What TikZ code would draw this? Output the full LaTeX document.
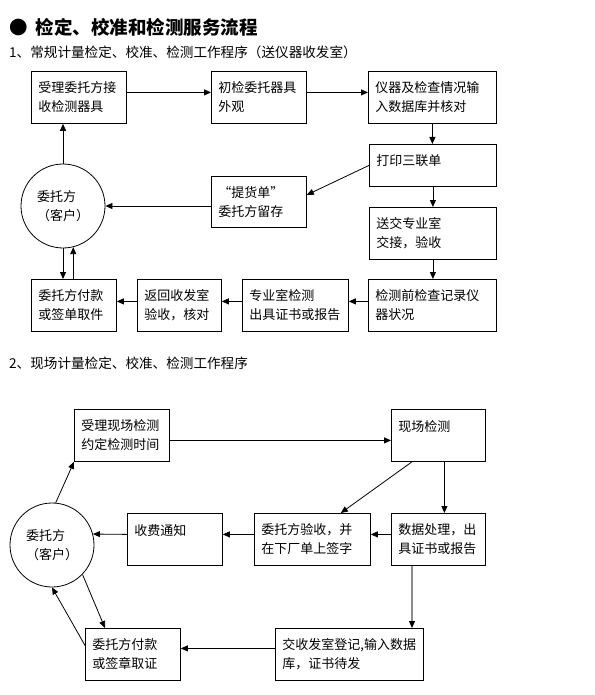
\documentclass[tikz,border=0pt]{standalone}
\usepackage{fontspec}
\setmainfont{Noto Sans CJK SC}
\usetikzlibrary{arrows.meta,calc}

\begin{document}
\begin{tikzpicture}
    [x=1pt,y=-1pt,
     flow/.style={-{Triangle[length=7pt,width=6pt]},line width=0.8pt},
     box/.style={draw,line width=0.8pt,anchor=north west,align=left,
       inner xsep=7pt,inner ysep=0pt,minimum height=52pt,text width=#1,
       font=\fontsize{13}{19}\selectfont},
     client/.style={draw,circle,line width=0.8pt,minimum size=84pt,inner sep=0pt,
       align=left,font=\fontsize{13}{19}\selectfont},
     heading/.style={anchor=west,inner sep=0pt,font=\fontsize{13.6}{16}\selectfont}]
    \useasboundingbox (0,0) rectangle (594,695);
    \node [anchor=west,inner sep=0pt,font=\fontsize{18.5}{22}\selectfont\bfseries]
      (title) at (9,27) {●\hspace{8pt}检定、校准和检测服务流程};
    \node [heading] (part1) at (9,52) {1、常规计量检定、校准、检测工作程序（送仪器收发室）};
    \node [heading] (part2) at (9,363) {2、现场计量检定、校准、检测工作程序};
    % part 1
    \node [box=81pt] (a) at (31,71) {受理委托方接\\收检测器具};
    \node [box=81pt] (b) at (211,71) {初检委托器具\\外观};
    \node [box=114pt] (c) at (368,71) {仪器及检查情况输\\入数据库并核对};
    \node [box=113pt,minimum height=42pt] (d) at (369,144) {打印三联单\\[-8pt]\mbox{}};
    \node [box=81pt,minimum height=51pt] (e) at (211,176) {“提货单”\\委托方留存};
    \node [box=113pt] (f) at (369,207) {送交专业室\\交接，验收};
    \node [box=114pt] (g) at (368,279) {检测前检查记录仪\\器状况};
    \node [box=92pt] (h) at (242,279) {专业室检测\\出具证书或报告};
    \node [box=70pt] (i) at (137,279) {返回收发室\\验收，核对};
    \node [box=71pt] (j) at (31,279) {委托方付款\\或签单取件};
    \node [client] (c1) at (63,206) {委托方\\（客户）};
    \draw [flow] ($(a.east)+(0,-5)$) -- ($(b.west)+(0,-5)$);
    \draw [flow] ($(b.east)+(0,-5)$) -- ($(c.west)+(0,-5)$);
    \draw [flow] (c.south) -- (c.south |- d.north);
    \draw [flow] (d.west) -- ($(e.east)+(0,-7)$);
    \draw [flow] (d.south) -- (d.south |- f.north);
    \draw [flow] (f.south) -- (f.south |- g.north);
    \draw [flow] (e.west |- c1.east) -- (c1.east);
    \draw [flow] (c1.north) -- (c1.north |- a.south);
    \draw [flow] ($(g.west)+(0,-4)$) -- ($(h.east)+(0,-4)$);
    \draw [flow] ($(h.west)+(0,-4)$) -- ($(i.east)+(0,-4)$);
    \draw [flow] ($(i.west)+(0,-4)$) -- ($(j.east)+(0,-4)$);
    \draw [flow] (c1.south) -- (c1.south |- j.north);
    \draw [flow] (c1.-76 |- j.north) -- (c1.-76);
    % part 2
    \node [box=81pt] (k) at (74,409) {受理现场检测\\约定检测时间};
    \node [box=80pt] (l) at (391,409) {现场检测\\\mbox{}};
    \node [box=81pt] (o) at (127,513) {收费通知\\\mbox{}};
    \node [box=102pt] (m) at (254,513) {委托方验收，并\\在下厂单上签字};
    \node [box=80pt] (n) at (391,513) {数据处理，出\\具证书或报告};
    \node [box=134pt] (p) at (275,628) {交收发室登记,输入数据\\库，证书待发};
    \node [box=81pt] (q) at (85,628) {委托方付款\\或签章取证};
    \node [client] (c2) at (52,545) {委托方\\（客户）};
    \coordinate (nout) at ($(n.south west)+(21,0)$);
    \coordinate (pin) at (nout |- p.north);
    \draw [flow] ($(k.east)+(0,5)$) -- ($(l.west)+(0,5)$);
    \draw [flow] (c2.85) -- (k.south west);
    \draw [flow] ($(l.south west)+(21,0)$) -- ($(m.north east)+(-30,0)$);
    \draw [flow] ($(l.south)+(6,0)$) -- ($(n.north)+(6,0)$);
    \draw [flow] ($(n.west)+(0,-5)$) -- ($(m.east)+(0,-5)$);
    \draw [flow] ($(m.west)+(0,-5)$) -- ($(o.east)+(0,-5)$);
    \draw [flow] ($(o.west)+(0,-5)$) -- (c2.15);
    % grey line, black head
    \draw [gray!90,line width=1.3pt] (nout) -- ($(pin)+(0,-6)$);
    \draw [flow] ($(pin)+(0,-7)$) -- (pin);
    \draw [flow] ($(p.west)+(0,-6)$) -- ($(q.east)+(0,-6)$);
    \draw [flow] (c2.-44) -- ($(q.north west)+(20,0)$);
    \draw [flow] ($(q.west)+(0,-9)$) -- (c2.south);
  \end{tikzpicture}
\end{document}
